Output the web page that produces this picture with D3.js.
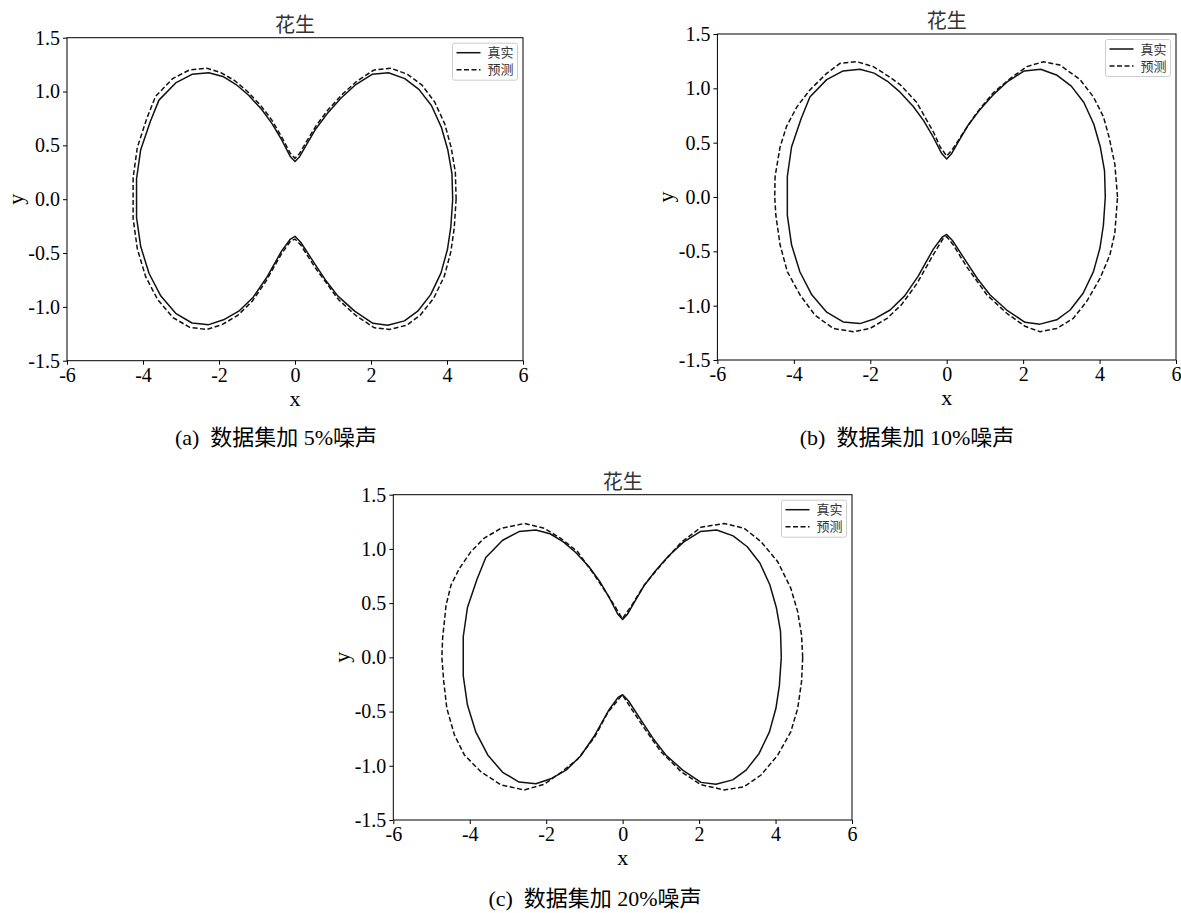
<!DOCTYPE html>
<html><head><meta charset="utf-8">
<script src="https://cdn.jsdelivr.net/npm/d3@7/dist/d3.min.js"></script>
<style>
html,body{margin:0;padding:0;background:#fff;}
svg{display:block;}
</style>
</head><body>
<svg id="chart" width="1181" height="913"></svg>
<script>
// ---- data ----
const xTicks = [-6, -4, -2, 0, 2, 4, 6];
const yTicks = [-1.5, -1.0, -0.5, 0.0, 0.5, 1.0, 1.5];
const titleText = "花生";
const legendLabels = ["真实", "预测"];
const captions = ["(a)  数据集加 5%噪声", "(b)  数据集加 10%噪声", "(c)  数据集加 20%噪声"];

const trueCurve = [
 [4.15,0.00],[4.13,0.24],[4.02,0.46],[3.85,0.67],[3.59,0.87],[3.26,1.02],[2.89,1.12],[2.46,1.175],
 [2.03,1.16],[1.60,1.065],[1.20,0.935],[0.85,0.795],[0.55,0.655],[0.30,0.505],[0.12,0.395],[0.00,0.35],
 [-0.13,0.40],[-0.35,0.55],[-0.60,0.70],[-0.88,0.835],[-1.22,0.965],[-1.55,1.065],[-1.90,1.14],[-2.27,1.175],
 [-2.71,1.16],[-3.14,1.08],[-3.58,0.92],[-3.81,0.72],[-4.06,0.46],[-4.17,0.19],[-4.17,0.00],
 [-4.17,-0.17],[-4.06,-0.44],[-3.84,-0.69],[-3.53,-0.90],[-3.14,-1.06],[-2.71,-1.15],[-2.27,-1.165],
 [-1.88,-1.12],[-1.48,-1.04],[-1.10,-0.91],[-0.75,-0.73],[-0.35,-0.48],[-0.12,-0.37],[0.00,-0.345],
 [0.15,-0.40],[0.52,-0.60],[0.80,-0.75],[1.13,-0.90],[1.57,-1.04],[2.05,-1.153],[2.44,-1.17],
 [2.88,-1.13],[3.23,-1.04],[3.57,-0.886],[3.84,-0.687],[4.01,-0.47],[4.10,-0.26],[4.15,0.00]
];

const predA = [
 [4.24,0.00],[4.22,0.25],[4.11,0.48],[3.94,0.70],[3.68,0.90],[3.34,1.06],[2.96,1.16],[2.52,1.217],
 [2.08,1.20],[1.64,1.10],[1.23,0.97],[0.87,0.83],[0.56,0.685],[0.31,0.54],[0.12,0.425],[0.00,0.38],
 [-0.13,0.43],[-0.36,0.585],[-0.61,0.735],[-0.90,0.87],[-1.25,1.0],[-1.58,1.10],[-1.95,1.175],[-2.32,1.217],
 [-2.78,1.20],[-3.22,1.12],[-3.67,0.955],[-3.90,0.75],[-4.15,0.48],[-4.26,0.20],[-4.26,0.00],
 [-4.26,-0.18],[-4.15,-0.46],[-3.93,-0.72],[-3.61,-0.935],[-3.21,-1.10],[-2.77,-1.19],[-2.32,-1.21],
 [-1.92,-1.165],[-1.51,-1.08],[-1.12,-0.945],[-0.77,-0.765],[-0.36,-0.51],[-0.12,-0.39],[0.00,-0.37],
 [0.15,-0.425],[0.53,-0.635],[1.15,-0.935],[1.60,-1.08],[2.09,-1.195],[2.49,-1.21],[2.94,-1.17],
 [3.30,-1.075],[3.65,-0.92],[3.93,-0.715],[4.10,-0.49],[4.19,-0.27],[4.24,0.00]
];

const predB = [
 [4.47,0.00],[4.40,0.30],[4.25,0.55],[4.10,0.74],[3.84,0.92],[3.49,1.08],[2.96,1.215],[2.53,1.245],
 [2.10,1.20],[1.66,1.09],[1.22,0.96],[0.785,0.775],[0.43,0.59],[0.17,0.448],[0.00,0.377],
 [-0.175,0.463],[-0.35,0.60],[-0.785,0.87],[-1.22,1.035],[-1.52,1.11],[-1.92,1.20],[-2.35,1.245],
 [-2.79,1.23],[-3.14,1.138],[-3.58,0.985],[-3.92,0.83],[-4.19,0.65],[-4.36,0.46],[-4.49,0.19],[-4.50,0.00],
 [-4.47,-0.17],[-4.36,-0.44],[-4.17,-0.687],[-3.84,-0.90],[-3.45,-1.086],[-2.97,-1.21],[-2.44,-1.24],
 [-2.01,-1.21],[-1.57,-1.12],[-1.18,-0.99],[-0.785,-0.80],[-0.35,-0.53],[-0.09,-0.38],[0.00,-0.365],
 [0.17,-0.44],[0.52,-0.64],[1.05,-0.90],[1.57,-1.07],[2.05,-1.19],[2.44,-1.24],[2.88,-1.21],
 [3.31,-1.117],[3.66,-0.963],[4.01,-0.75],[4.27,-0.534],[4.40,-0.33],[4.47,0.00]
];

const predC = [
 [4.71,0.00],[4.68,0.206],[4.58,0.42],[4.40,0.636],[4.06,0.88],[3.62,1.067],[3.18,1.19],[2.66,1.235],
 [2.05,1.20],[1.53,1.06],[1.00,0.85],[0.57,0.67],[0.22,0.47],[-0.01,0.355],
 [-0.20,0.47],[-0.39,0.575],[-0.74,0.76],[-1.18,0.975],[-1.61,1.095],[-2.05,1.19],[-2.57,1.235],
 [-3.18,1.19],[-3.62,1.10],[-3.97,0.975],[-4.27,0.82],[-4.49,0.667],[-4.62,0.48],[-4.71,0.175],[-4.73,0.00],
 [-4.68,-0.224],[-4.60,-0.47],[-4.40,-0.716],[-4.14,-0.90],[-3.71,-1.055],[-3.18,-1.177],[-2.57,-1.223],
 [-2.05,-1.17],[-1.61,-1.06],[-1.18,-0.94],[-0.74,-0.74],[-0.39,-0.51],[-0.01,-0.345],
 [0.22,-0.47],[0.57,-0.655],[1.00,-0.87],[1.53,-1.055],[2.05,-1.175],[2.66,-1.223],[3.18,-1.193],
 [3.62,-1.085],[4.06,-0.90],[4.40,-0.686],[4.58,-0.47],[4.68,-0.224],[4.71,0.00]
];

// ---- layout ----
const panels = [
 {left:67, right:523, top:37.7, bottom:360.7, pred:predA, caption:captions[0], capX:276, capY:437},
 {left:717.4, right:1176, top:34, bottom:360, pred:predB, caption:captions[1], capX:907, capY:437},
 {left:393.3, right:852, top:494.7, bottom:820, pred:predC, caption:captions[2], capX:595, capY:898}
];

const serif = "'Liberation Serif','Times New Roman','Noto Sans CJK SC',serif";
const cjk = "'Noto Sans CJK SC','Liberation Serif',sans-serif";
const svg = d3.select("#chart");

panels.forEach(p => {
  const x = d3.scaleLinear().domain([-6, 6]).range([p.left, p.right]);
  const y = d3.scaleLinear().domain([-1.5, 1.5]).range([p.bottom, p.top]);
  const g = svg.append("g");

  // axes
  const xa = g.append("g").attr("transform", `translate(0,${p.bottom})`)
    .call(d3.axisBottom(x).tickValues(xTicks).tickSize(4).tickPadding(3).tickFormat(d => String(d)));
  const ya = g.append("g").attr("transform", `translate(${p.left},0)`)
    .call(d3.axisLeft(y).tickValues(yTicks).tickSize(4).tickPadding(3).tickFormat(d => d.toFixed(1)));
  [xa, ya].forEach(a => {
    a.select(".domain").remove();
    a.selectAll("line").attr("stroke", "#000").attr("stroke-width", 1);
    a.selectAll("text").attr("fill", "#000").style("font-family", serif).style("font-size", "20px");
  });

  // spines
  g.append("rect").attr("x", p.left).attr("y", p.top)
    .attr("width", p.right - p.left).attr("height", p.bottom - p.top)
    .attr("fill", "none").attr("stroke", "#000").attr("stroke-width", 1);

  const line = d3.line().x(d => x(d[0])).y(d => y(d[1]));
  const clipId = "clip" + Math.round(p.left);
  g.append("clipPath").attr("id", clipId).append("rect")
    .attr("x", p.left).attr("y", p.top).attr("width", p.right - p.left).attr("height", p.bottom - p.top);
  const plot = g.append("g").attr("clip-path", `url(#${clipId})`);
  plot.append("path").datum(trueCurve).attr("d", line)
    .attr("fill", "none").attr("stroke", "#111").attr("stroke-width", 1.5).attr("stroke-linejoin", "round");
  plot.append("path").datum(p.pred).attr("d", line)
    .attr("fill", "none").attr("stroke", "#111").attr("stroke-width", 1.5)
    .attr("stroke-dasharray", "5,2.5");

  // title
  const cx = (p.left + p.right) / 2;
  g.append("text").attr("x", cx).attr("y", p.top - 6).attr("text-anchor", "middle")
    .style("font-family", cjk).style("font-size", "20px").attr("fill", "#333").text(titleText);

  // axis labels
  g.append("text").attr("x", cx).attr("y", p.bottom + 45).attr("text-anchor", "middle")
    .style("font-family", serif).style("font-size", "22px").text("x");
  g.append("text").attr("transform", `translate(${p.left - 44},${(p.top + p.bottom) / 2}) rotate(-90)`)
    .attr("text-anchor", "middle").style("font-family", serif).style("font-size", "22px").text("y");

  // legend
  const lw = 65, lh = 37;
  const lx = p.right - 5.5 - lw, ly = p.top + 5.5;
  const lg = g.append("g");
  lg.append("rect").attr("x", lx).attr("y", ly).attr("width", lw).attr("height", lh).attr("rx", 2)
    .attr("fill", "#fff").attr("fill-opacity", 0.8).attr("stroke", "#ccc").attr("stroke-width", 1);
  legendLabels.forEach((lab, i) => {
    const yy = ly + 9.5 + i * 17;
    lg.append("line").attr("x1", lx + 4).attr("x2", lx + 28).attr("y1", yy).attr("y2", yy)
      .attr("stroke", "#111").attr("stroke-width", 1.5)
      .attr("stroke-dasharray", i === 1 ? "5,2.5" : null);
    lg.append("text").attr("x", lx + 35).attr("y", yy).attr("dy", "0.35em")
      .style("font-family", cjk).style("font-size", "13px").attr("fill", "#333").text(lab);
  });

  // caption
  svg.append("text").attr("x", p.capX).attr("y", p.capY).attr("dy", "0.35em").attr("text-anchor", "middle")
    .style("font-family", serif).style("font-size", "22px").attr("fill", "#000")
    .style("white-space", "pre").text(p.caption);
});
</script>
</body></html>
